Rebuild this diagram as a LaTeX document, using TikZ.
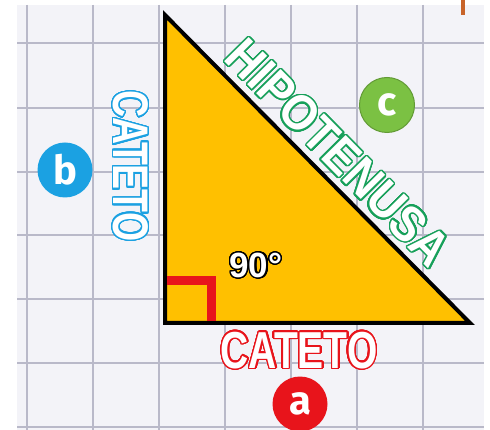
\documentclass[tikz,border=0pt]{standalone}
\usepackage{fontspec}
\usepackage{contour}
\usetikzlibrary{positioning}
\setmainfont{Liberation Sans}
\newfontfamily\condfont[FakeStretch=0.75]{Liberation Sans}
\newfontfamily\hipofont[FakeStretch=0.9]{Liberation Sans}
\newfontfamily\roundfont{Fira Sans}
\definecolor{Paper}{HTML}{F3F3F8}
\definecolor{GridLn}{HTML}{B9B9C9}
\definecolor{Tri}{HTML}{FFC000}
\definecolor{RedA}{HTML}{E8141B}
\definecolor{BlueB}{HTML}{1BA1E2}
\definecolor{GreenC}{HTML}{7BC143}
\definecolor{GreenH}{HTML}{17A05A}
\definecolor{Tick}{HTML}{C8642A}
\contournumber{32}

\begin{document}
\begin{tikzpicture}[x=1pt, y=-1pt,
  badge/.style={circle, minimum size=55pt, inner sep=0pt, text=white, font=\roundfont\bfseries\fontsize{40}{40}\selectfont}]
  \useasboundingbox (0,0) rectangle (490,430);
  \fill[white] (0,0) rectangle (490,430);
  % grid paper
  \fill[Paper] (17,5) rectangle (484,430);
  \foreach \gx in {27,93,159,225,291,357,423}
    \draw[GridLn, line width=1.4pt] (\gx,5) -- (\gx,430);
  \foreach \gy in {43,108,172,235,299,363,427}
    \draw[GridLn, line width=1.4pt] (17,\gy) -- (484,\gy);
  \fill[Tick] (461,0) rectangle (465,15);
  % triangle
  \coordinate (top) at (165,15);
  \coordinate (rt) at (165,323);
  \coordinate (tip) at (470,323);
  \filldraw[fill=Tri, draw=black, line width=4pt] (top) -- (rt) -- (tip) -- cycle;
  \draw[RedA, line width=9pt] (167,281) -- (211,281) -- (211,321);
  \node[text=white, font=\bfseries\fontsize{35}{35}\selectfont] (ang) at (256,266) {\contourlength{1.3pt}\contour{black}{90°}};
  % labels
  \node[text=white, font=\condfont\bfseries\fontsize{52}{52}\selectfont] (catA) at (299,351) {\contourlength{1.4pt}\contour{RedA}{CATETO}};
  \node[text=white, rotate=-90, font=\condfont\bfseries\fontsize{50}{50}\selectfont] (catB) at (130,166) {\contourlength{1.4pt}\contour{BlueB}{CATETO}};
  \node[text=white, rotate=-45.4, font=\hipofont\bfseries\fontsize{50}{50}\selectfont] (hip) at (338,153) {\contourlength{1.4pt}\contour{GreenH}{HIPOTENUSA}};
  \node[badge, fill=RedA] (a) at (300,404) {a};
  \node[badge, fill=BlueB] (b) at (65,170) {b};
  \node[badge, fill=GreenC, draw=GreenC!80!black, line width=1pt] (c) at (387,105) {c};
\end{tikzpicture}
\end{document}
